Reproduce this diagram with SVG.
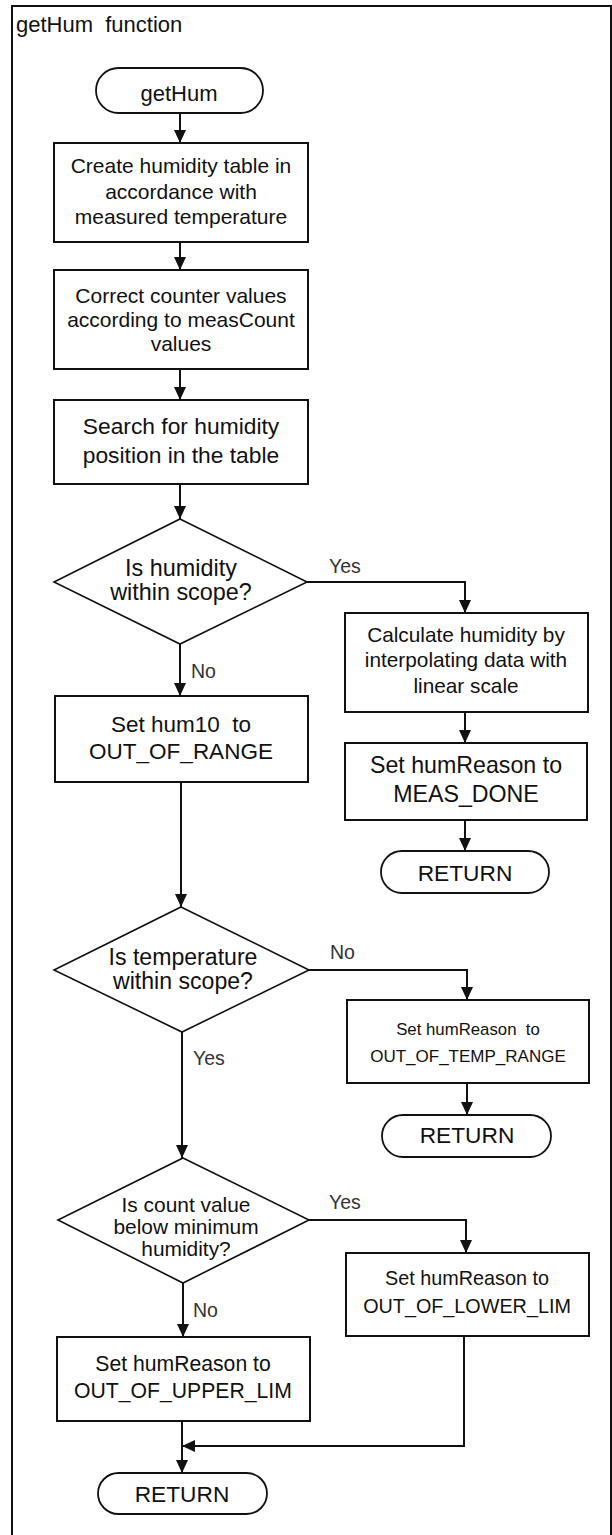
<svg xmlns="http://www.w3.org/2000/svg" width="612" height="1535" viewBox="0 0 612 1535">
<style>
text{font-family:"Liberation Sans",Arial,sans-serif;fill:#111;text-anchor:middle}
.box{fill:#fff;stroke:#111;stroke-width:2}
.dia{fill:#fff;stroke:#111;stroke-width:1.6}
.term{fill:#fff;stroke:#111;stroke-width:1.8}
.conn{fill:none;stroke:#111;stroke-width:2}
.lbl{font-size:19.5px;text-anchor:start;fill:#333}
</style>
<defs>
<marker id="ah" markerUnits="userSpaceOnUse" markerWidth="13" markerHeight="12" refX="13" refY="6" orient="auto">
<path d="M0,0 L13,6 L0,12 z" fill="#111"/>
</marker>
</defs>
<rect width="612" height="1535" fill="#fff"/>
<g id="frame">
<path d="M12,1540 V6 H611 V1540" fill="none" stroke="#111" stroke-width="2"/>
<text x="16" y="32" xml:space="preserve" style="font-size:22px;text-anchor:start">getHum  function</text>
</g>
<g id="connectors">
<path class="conn" d="M180,113 V143" marker-end="url(#ah)"/>
<path class="conn" d="M180,242 V270" marker-end="url(#ah)"/>
<path class="conn" d="M180,369 V400" marker-end="url(#ah)"/>
<path class="conn" d="M180,484 V519" marker-end="url(#ah)"/>
<path class="conn" d="M307,582 H465 V613" marker-end="url(#ah)"/>
<path class="conn" d="M465,712 V743" marker-end="url(#ah)"/>
<path class="conn" d="M465,820 V851" marker-end="url(#ah)"/>
<path class="conn" d="M180,644 V696" marker-end="url(#ah)"/>
<path class="conn" d="M181,782 V907" marker-end="url(#ah)"/>
<path class="conn" d="M309,970 H467 V1000" marker-end="url(#ah)"/>
<path class="conn" d="M467,1083 V1115" marker-end="url(#ah)"/>
<path class="conn" d="M182,1032 V1158" marker-end="url(#ah)"/>
<path class="conn" d="M309,1220 H466 V1253" marker-end="url(#ah)"/>
<path class="conn" d="M183,1283 V1337" marker-end="url(#ah)"/>
<path class="conn" d="M182,1421 V1473" marker-end="url(#ah)"/>
<path class="conn" d="M464,1336 V1446 H182" marker-end="url(#ah)"/>
<text class="lbl" x="329" y="573">Yes</text>
<text class="lbl" x="191" y="678">No</text>
<text class="lbl" x="330" y="959">No</text>
<text class="lbl" x="193" y="1065">Yes</text>
<text class="lbl" x="329" y="1209">Yes</text>
<text class="lbl" x="193" y="1317">No</text>
</g>
<g id="start">
<rect class="term" x="96" y="68" width="167" height="45" rx="22.5"/>
<text x="179" y="101" style="font-size:22px">getHum</text>
</g>
<g id="create-table">
<rect class="box" x="54" y="143" width="254" height="99"/>
<text x="181" y="173" style="font-size:21px">Create humidity table in</text>
<text x="181" y="199" style="font-size:21px">accordance with</text>
<text x="181" y="224" style="font-size:21px">measured temperature</text>
</g>
<g id="correct-counter">
<rect class="box" x="54" y="270" width="254" height="99"/>
<text x="181" y="303" style="font-size:21px">Correct counter values</text>
<text x="181" y="327" style="font-size:21px">according to measCount</text>
<text x="181" y="351" style="font-size:21px">values</text>
</g>
<g id="search">
<rect class="box" x="54" y="400" width="254" height="84"/>
<text x="181" y="434" style="font-size:22.8px">Search for humidity</text>
<text x="181" y="463" style="font-size:22.8px">position in the table</text>
</g>
<g id="dec-humidity">
<path class="dia" d="M180,519 L307,582 L180,644 L54,582 Z"/>
<text x="181" y="576" style="font-size:23.4px">Is humidity</text>
<text x="181" y="600" style="font-size:23.4px">within scope?</text>
</g>
<g id="calc">
<rect class="box" x="345" y="613" width="243" height="99"/>
<text x="466" y="642" style="font-size:20.8px">Calculate humidity by</text>
<text x="466" y="667" style="font-size:20.8px">interpolating data with</text>
<text x="466" y="693" style="font-size:20.8px">linear scale</text>
</g>
<g id="meas-done">
<rect class="box" x="345" y="743" width="242" height="77"/>
<text x="466" y="773" style="font-size:23.2px">Set humReason to</text>
<text x="466" y="802" style="font-size:23.2px">MEAS_DONE</text>
</g>
<g id="return1">
<rect class="term" x="381" y="851" width="168" height="42" rx="21"/>
<text x="465" y="881" style="font-size:22.7px">RETURN</text>
</g>
<g id="set-hum10">
<rect class="box" x="55" y="696" width="253" height="86"/>
<text x="181" y="732" xml:space="preserve" style="font-size:22.5px">Set hum10  to</text>
<text x="181" y="759" style="font-size:22.5px">OUT_OF_RANGE</text>
</g>
<g id="dec-temp">
<path class="dia" d="M181,907 L309,970 L182,1032 L54,970 Z"/>
<text x="183" y="965" style="font-size:23.1px">Is temperature</text>
<text x="183" y="989" style="font-size:23.1px">within scope?</text>
</g>
<g id="temp-range">
<rect class="box" x="347" y="1000" width="242" height="83"/>
<text x="468" y="1035" xml:space="preserve" style="font-size:16.8px">Set humReason  to</text>
<text x="468" y="1062" style="font-size:17px">OUT_OF_TEMP_RANGE</text>
</g>
<g id="return2">
<rect class="term" x="382" y="1115" width="169" height="42" rx="21"/>
<text x="467" y="1143" style="font-size:22.7px">RETURN</text>
</g>
<g id="dec-count">
<path class="dia" d="M183,1158 L309,1220 L183,1283 L58,1220 Z"/>
<text x="186" y="1212" style="font-size:20.9px">Is count value</text>
<text x="186" y="1234" style="font-size:20.9px">below minimum</text>
<text x="186" y="1256" style="font-size:20.9px">humidity?</text>
</g>
<g id="lower-lim">
<rect class="box" x="346" y="1253" width="243" height="83"/>
<text x="467" y="1285" style="font-size:19.8px">Set humReason to</text>
<text x="467" y="1313" style="font-size:19.8px">OUT_OF_LOWER_LIM</text>
</g>
<g id="upper-lim">
<rect class="box" x="57" y="1337" width="253" height="84"/>
<text x="183" y="1371" style="font-size:21.2px">Set humReason to</text>
<text x="183" y="1398" style="font-size:21.2px">OUT_OF_UPPER_LIM</text>
</g>
<g id="return3">
<rect class="term" x="98" y="1473" width="169" height="41" rx="20.5"/>
<text x="182" y="1502" style="font-size:22.7px">RETURN</text>
</g>
</svg>
